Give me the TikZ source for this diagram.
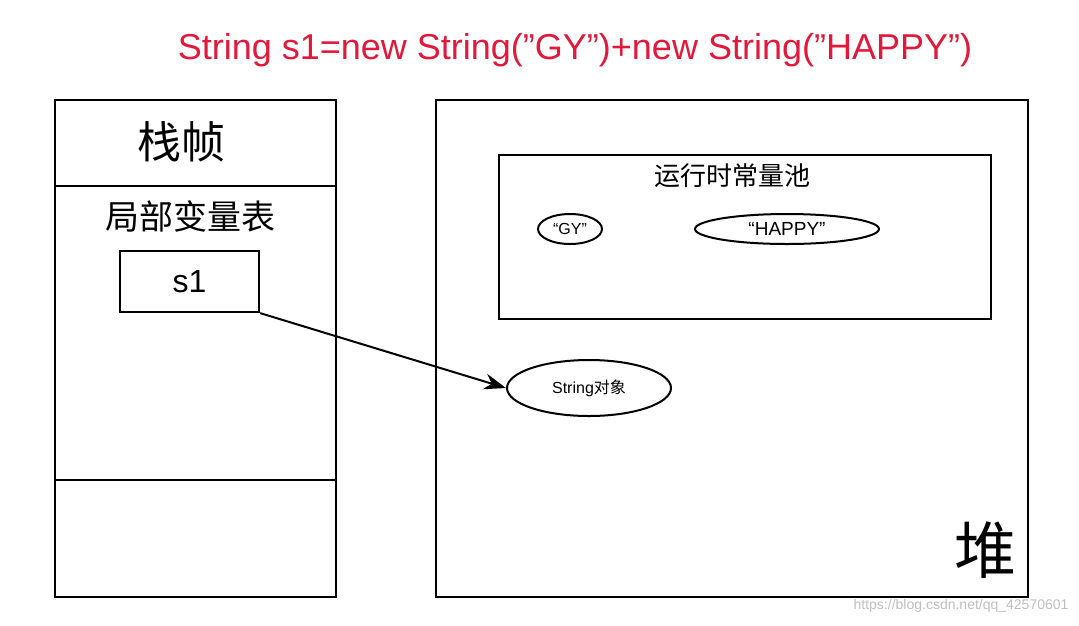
\documentclass[tikz,border=0pt]{standalone}
\usepackage{fontspec}
\setmainfont{Liberation Sans}
\newfontfamily\cjk{Noto Sans CJK SC}
\definecolor{titlered}{RGB}{225,25,60}
\usetikzlibrary{arrows.meta,shapes.geometric}
\begin{document}
\begin{tikzpicture}[x=1pt,y=-1pt,
  box/.style={draw,line width=2.2pt},
  oval/.style={draw,ellipse,line width=2pt,inner sep=0pt}]
\useasboundingbox (0,0) rectangle (1079,625);
\node[text=titlered,font=\fontsize{36}{40}\selectfont] (title) at (575,50) {String s1=new String(”GY”)+new String(”HAPPY”)};
\draw[box] (55,100) rectangle (336,597);
\coordinate (l1) at (55,186); \coordinate (r1) at (336,186);
\coordinate (l2) at (55,480); \coordinate (r2) at (336,480);
\draw[box] (l1) -- (r1); \draw[box] (l2) -- (r2);
\node[font=\cjk\fontsize{44}{48}\selectfont] (zz) at (181,142) {栈帧};
\node[font=\cjk\fontsize{34}{38}\selectfont] (jb) at (190,216) {局部变量表};
\node[box,minimum width=139pt,minimum height=61pt,font=\fontsize{32}{36}\selectfont] (s1) at (189.5,281.5) {s1};
\draw[box] (436,100) rectangle (1028,597);
\draw[box] (499,155) rectangle (991,319);
\node[font=\cjk\fontsize{26}{30}\selectfont] (pool) at (732,176) {运行时常量池};
\node[oval,minimum width=64pt,minimum height=30pt,font=\fontsize{16}{18}\selectfont] (gy) at (570,229) {“GY”};
\node[oval,minimum width=184pt,minimum height=30pt,font=\fontsize{19}{22}\selectfont] (happy) at (787,229) {“HAPPY”};
\node[oval,minimum width=164pt,minimum height=56pt,font=\fontsize{16}{18}\selectfont] (obj) at (589,388) {String{\cjk 对象}};
\draw[line width=2pt,-{Stealth[length=22pt,width=16pt]}] (s1.south east) -- (obj.west);
\node[font=\cjk\fontsize{62}{66}\selectfont] (dui) at (985,550) {堆};
\node[text=black!25,font=\fontsize{14}{16}\selectfont,anchor=east] (wm) at (1072,606) {https://blog.csdn.net/qq\_42570601};
\end{tikzpicture}
\end{document}
